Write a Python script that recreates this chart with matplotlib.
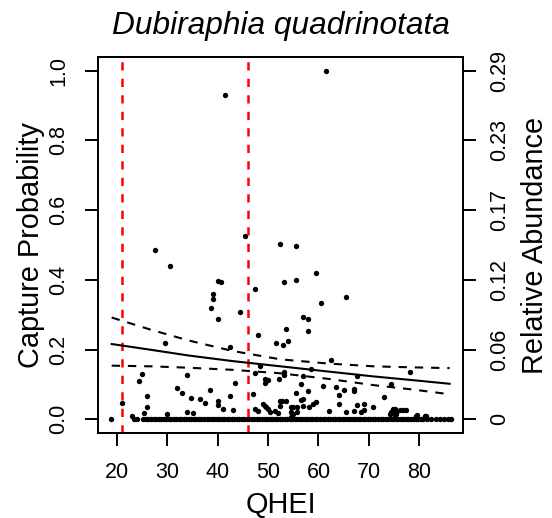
import matplotlib
matplotlib.use("Agg")
import matplotlib.pyplot as plt
import numpy as np

plt.rcParams['font.family'] = ['Liberation Sans', 'DejaVu Sans']

title = "Dubiraphia quadrinotata"
x_label = "QHEI"
y_label_left = "Capture Probability"
y_label_right = "Relative Abundance"

x_ticks = [20, 30, 40, 50, 60, 70, 80]
y_ticks = [0.0, 0.2, 0.4, 0.6, 0.8, 1.0]
y_tick_labels = ["0.0", "0.2", "0.4", "0.6", "0.8", "1.0"]
right_tick_labels = ["0", "0.06", "0.12", "0.17", "0.23", "0.29"]

# thresholds (red dashed lines)
thresholds = [21.1, 46.1]

# non-zero observations: QHEI, scaled relative abundance
obs_x = [21.05, 23.0, 24.5, 25.0, 25.5, 26.0, 26.0, 27.5, 29.5, 30.0, 30.5,
         32.0, 33.0, 33.9, 33.9, 34.7, 35.1, 36.5, 37.5, 38.5, 38.65, 39.0, 39.0,
         40.0, 40.6, 40.0, 40.0, 40.0, 41.0, 41.5, 42.5, 42.5, 43.0, 43.5, 44.5,
         45.5, 47.0, 47.5, 47.5, 47.5, 48.0, 48.0, 48.5, 49.0, 49.3, 49.3, 49.3,
         49.6, 49.9, 50.0, 50.4, 51.3, 51.5, 51.9, 52.1, 52.3, 52.3, 52.3,
         52.7, 53.1, 53.0, 53.1, 53.1, 53.5, 53.5, 54.0, 54.5, 54.5, 54.5, 55.0,
         55.0, 55.5, 55.5, 55.6, 55.7, 55.7, 56.5, 56.6, 57.0, 57.0, 57.0, 57.0,
         58.0, 58.0, 58.0, 58.1, 58.6, 59.0, 59.5, 59.5, 60.5, 60.9, 61.5, 62.0,
         62.5, 63.5, 64.0, 64.0, 65.0, 65.5, 65.5, 67.0, 67.0, 67.0, 67.6, 67.6,
         68.4, 69.1, 69.1, 70.8, 73.0, 74.3, 78.1,
         74.4, 74.8, 75.1, 75.6, 76.1, 76.7, 77.4, 74.1, 74.9, 75.4,
         79.4, 81.2, 79.5, 81.4]
obs_y = [0.046, 0.009, 0.110, 0.131, 0.019, 0.068, 0.036, 0.486, 0.219, 0.016, 0.441,
         0.089, 0.077, 0.126, 0.021, 0.062, 0.017, 0.057, 0.046, 0.083, 0.320, 0.359, 0.346,
         0.398, 0.394, 0.287, 0.054, 0.041, 0.030, 0.930, 0.208, 0.067, 0.028, 0.105, 0.309,
         0.525, 0.074, 0.374, 0.132, 0.031, 0.242, 0.024, 0.152, 0.043, 0.115, 0.105, 0.038,
         0.034, 0.029, 0.112, 0.021, 0.024, 0.219, 0.019, 0.115, 0.054, 0.038, 0.503,
         0.054, 0.395, 0.214, 0.136, 0.126, 0.258, 0.052, 0.224, 0.036, 0.020, 0.008, 0.036,
         0.015, 0.497, 0.399, 0.076, 0.036, 0.020, 0.056, 0.102, 0.293, 0.123, 0.058, 0.037,
         0.289, 0.253, 0.081, 0.035, 0.145, 0.045, 0.420, 0.050, 0.334, 0.096, 1.000, 0.024,
         0.170, 0.092, 0.069, 0.045, 0.085, 0.351, 0.021, 0.086, 0.081, 0.024, 0.124, 0.040,
         0.021, 0.045, 0.026, 0.036, 0.063, 0.100, 0.136,
         0.021, 0.029, 0.031, 0.024, 0.027, 0.027, 0.027, 0.014, 0.014, 0.016,
         0.011, 0.011, 0.013, 0.010]

# zero observations (QHEI values of sites with no capture)
zero_x = [18.95, 23.4, 24.0,
          25.3, 25.8, 26.3, 26.8, 27.3, 27.8, 28.3, 28.8, 29.3, 29.8, 30.3, 30.8,
          31.3, 31.8, 32.3, 32.8, 33.3, 33.8, 34.3, 34.8, 35.3, 35.8, 36.3, 36.8,
          37.3, 37.8, 38.3, 38.8, 39.3, 39.8, 40.3, 40.8, 41.3, 41.8, 42.3, 42.8,
          43.3, 43.8, 44.3, 44.8, 45.3, 45.8, 46.3, 46.8, 47.3, 47.8, 48.3, 48.8,
          49.3, 49.8, 50.3, 50.8, 51.3, 51.8, 52.3, 52.8, 53.3, 53.8, 54.3, 54.8,
          55.3, 55.8, 56.3, 56.8, 57.3, 57.8, 58.3, 58.8, 59.3, 59.8, 60.3, 60.8,
          61.3, 61.8, 62.3, 62.8, 63.3, 63.8, 64.3, 64.8, 65.3, 65.8, 66.3, 66.8,
          67.3, 67.8, 68.3, 68.8, 69.3, 69.8, 70.3, 70.8, 71.3, 71.8, 72.3, 72.8,
          73.3, 73.8, 74.3, 74.8, 75.3, 75.8, 76.3, 76.8, 77.3, 77.8, 78.3, 78.8,
          79.3, 79.8, 80.3, 80.8, 81.6, 82.4, 83.2, 84.0, 84.8, 85.6, 86.3]

# fitted capture probability and confidence band
fit_x = [19.0, 27.0, 34.3, 43.0, 52.5, 62.0, 71.0, 79.0, 86.0]
fit_y = [0.216, 0.199, 0.183, 0.167, 0.152, 0.137, 0.123, 0.112, 0.102]
upper_y = [0.292, 0.256, 0.226, 0.196, 0.172, 0.160, 0.152, 0.149, 0.147]
lower_y = [0.154, 0.152, 0.148, 0.142, 0.132, 0.116, 0.098, 0.085, 0.072]

W, H = 552, 518
fig = plt.figure(figsize=(W / 100, H / 100), dpi=100)
L, R, T, B = 98, 463, 56.7, 433.3
ax = fig.add_axes([L / W, 1 - B / H, (R - L) / W, (B - T) / H])

ax.set_xlim(16.29, 88.65)
ax.set_ylim(-0.04, 1.04)

for t in thresholds:
    ax.axvline(t, color='red', lw=1.8, linestyle=(0, (3.3, 3.3)), zorder=1)

ax.scatter(zero_x, [0.0] * len(zero_x), s=15, color='black', lw=0, zorder=3)
ax.scatter(obs_x, obs_y, s=15, color='black', lw=0, zorder=3)

ax.plot(fit_x, fit_y, color='black', lw=1.5, zorder=2)
ax.plot(fit_x, upper_y, color='black', lw=1.5, linestyle=(0, (4, 3.8)), zorder=2)
ax.plot(fit_x, lower_y, color='black', lw=1.5, linestyle=(0, (4, 3.8)), zorder=2)

for s in ax.spines.values():
    s.set_linewidth(1.4)

ax.set_xticks(x_ticks)
ax.set_xticklabels([str(v) for v in x_ticks])
ax.set_yticks(y_ticks)
ax.set_yticklabels(y_tick_labels, rotation=90, va='center')
ax.tick_params(axis='both', length=9.5, width=1.4, labelsize=15.5, color='black')
ax.tick_params(axis='x', pad=11)
ax.tick_params(axis='y', pad=11)

ax2 = ax.twinx()
ax2.set_ylim(ax.get_ylim())
ax2.set_yticks(y_ticks)
ax2.set_yticklabels(right_tick_labels, rotation=90, va='center')
ax2.tick_params(axis='y', length=9.5, width=1.4, labelsize=15.5, pad=9)
for s in ax2.spines.values():
    s.set_linewidth(1.4)

fig.text((L + R) / 2 / W, 1 - 34 / H, title, fontsize=22.8, style='italic',
         ha='center', va='baseline')
fig.text((L + R) / 2 / W, 1 - 513 / H, x_label, fontsize=20.8,
         ha='center', va='baseline')
fig.text(31 / W, 1 - ((T + B) / 2) / H, y_label_left, fontsize=20.8,
         rotation=90, ha='center', va='center')
fig.text(535 / W, 1 - ((T + B) / 2) / H, y_label_right, fontsize=20.8,
         rotation=90, ha='center', va='center')

fig.savefig("out.png", dpi=100)
